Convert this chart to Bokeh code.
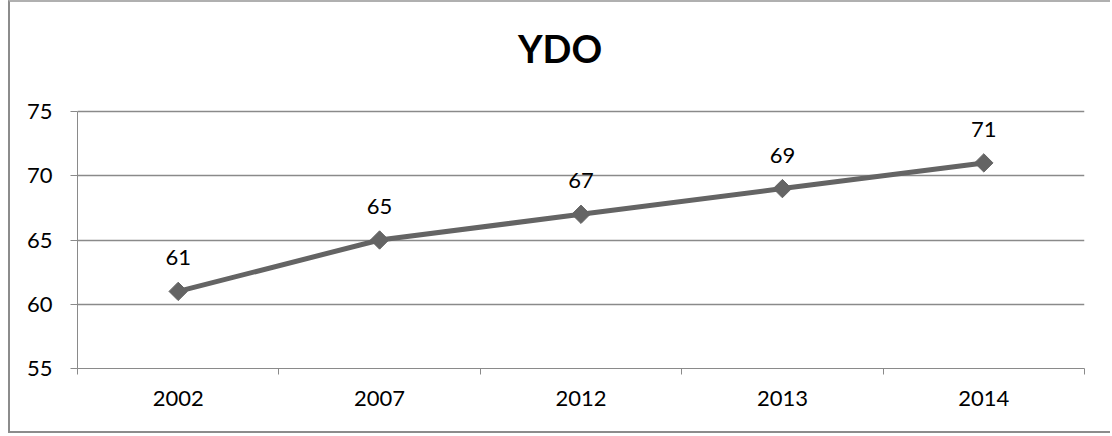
import math
from bokeh.plotting import figure
from bokeh.models import Range1d, FixedTicker, ColumnDataSource
from bokeh.core.properties import value
from bokeh.embed import file_html
from bokeh.resources import INLINE

years = ["2002", "2007", "2012", "2013", "2014"]
ydo = [61, 65, 67, 69, 71]
y_ticks = [55, 60, 65, 70, 75]
title_text = "YDO"

xs = [i + 0.5 for i in range(len(years))]
src = ColumnDataSource(dict(x=xs, y=ydo, lbl=[str(v) for v in ydo]))

FONT = "Lato"
GRID = "#8a8a8a"
LINE = "#646464"

W, H = 1102, 433
B_LEFT, B_RIGHT, B_TOP, B_BOTTOM = 67, 28, 18, 67
PLOT_PX = 257  # pixel height of the 55..75 value band
frame_h = H - B_TOP - B_BOTTOM
y_end = y_ticks[0] + (y_ticks[-1] - y_ticks[0]) * frame_h / PLOT_PX

p = figure(width=W, height=H, output_backend="svg", toolbar_location=None,
           x_range=Range1d(0, len(years)), y_range=Range1d(y_ticks[0], y_end),
           min_border_left=B_LEFT, min_border_right=B_RIGHT,
           min_border_top=B_TOP, min_border_bottom=B_BOTTOM)
p.styles = {"margin-left": "8px", "border-left": "2px solid #8c8c8c",
            "border-top": "2px solid #b0b0b0", "border-bottom": "2px solid #8c8c8c"}
p.outline_line_color = None
p.background_fill_color = "white"
p.border_fill_color = "white"

# y axis
p.yaxis.ticker = FixedTicker(ticks=y_ticks)
p.yaxis.bounds = (y_ticks[0], y_ticks[-1])
p.yaxis.axis_line_color = GRID
p.yaxis.major_tick_line_color = GRID
p.yaxis.major_tick_out = 7
p.yaxis.major_tick_in = 0
p.yaxis.minor_tick_line_color = None
p.yaxis.major_label_text_font = FONT
p.yaxis.major_label_text_font_size = "22px"
p.yaxis.major_label_text_color = "black"
p.yaxis.major_label_standoff = 18

# x axis
p.xaxis.ticker = FixedTicker(ticks=xs, minor_ticks=list(range(len(years) + 1)))
p.xaxis.major_label_overrides = {x: y for x, y in zip(xs, years)}
p.xaxis.major_tick_line_color = None
p.xaxis.minor_tick_line_color = GRID
p.xaxis.minor_tick_out = 6
p.xaxis.minor_tick_in = 0
p.xaxis.axis_line_color = GRID
p.xaxis.major_label_text_font = FONT
p.xaxis.major_label_text_font_size = "22px"
p.xaxis.major_label_text_color = "black"
p.xaxis.major_label_standoff = 16

p.xgrid.grid_line_color = None
p.ygrid.ticker = FixedTicker(ticks=y_ticks)
p.ygrid.grid_line_color = GRID
p.ygrid.grid_line_width = 1.5

p.line("x", "y", source=src, line_color=LINE, line_width=5)
p.scatter("x", "y", source=src, marker="square", angle=math.pi / 4, size=13,
          fill_color=LINE, line_color=LINE)
p.text("x", "y", text="lbl", source=src, text_font=value(FONT), text_font_size="22px",
       text_align="center", text_baseline="bottom", y_offset=-26, text_color="black")

# chart title
p.text(x=[len(years) / 2], y=[y_ticks[-1]], text=[title_text], text_font=value(FONT),
       text_font_size="38px", text_font_style="bold", text_align="center",
       text_baseline="middle", x_offset=-21, y_offset=-64, text_color="black")

open("out.html", "w").write(file_html(p, INLINE))
